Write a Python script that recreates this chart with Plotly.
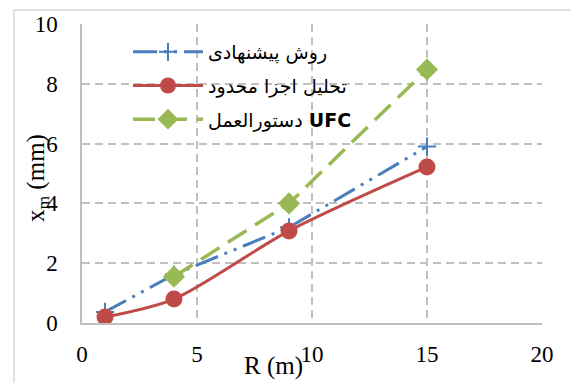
import plotly.graph_objects as go

# Radius R (m) and maximum displacement x_m (mm) for each method
r_proposed = [1, 4, 9, 15]
xm_proposed = [0.37, 1.62, 3.2, 5.9]

r_fem = [1, 4, 9, 15]
xm_fem = [0.2, 0.8, 3.08, 5.22]

r_ufc = [4, 9, 15]
xm_ufc = [1.55, 4.0, 8.48]

names = ["روش پیشنهادی", "تحلیل اجزا محدود", "دستورالعمل <b>UFC</b>"]

x_ticks = [0, 5, 10, 15, 20]
y_ticks = [0, 2, 4, 6, 8, 10]

serif = "Liberation Serif"
grid_color = "#c0c0c0"

fig = go.Figure()

fig.add_trace(go.Scatter(
    x=r_proposed, y=xm_proposed, name=names[0], mode="lines+markers",
    line=dict(color="#4a7ebb", width=3, dash="24px,7px,3px,7px,3px,7px"),
    marker=dict(symbol="cross-thin", size=13, line=dict(color="#4a7ebb", width=2)),
    legendgroup="a",
))
fig.add_trace(go.Scatter(
    x=r_fem, y=xm_fem, name=names[1], mode="lines+markers",
    line=dict(color="#be4b48", width=3, shape="spline", smoothing=0.8),
    marker=dict(symbol="circle", size=17, color="#be4b48"),
    legendgroup="b",
))
fig.add_trace(go.Scatter(
    x=r_ufc, y=xm_ufc, name=names[2], mode="lines+markers",
    line=dict(color="#98b954", width=3.5, dash="22px,10px"),
    marker=dict(symbol="diamond", size=17, color="#98b954"),
    legendgroup="c",
))

tick_font = dict(family=serif, size=23, color="black")

fig.update_xaxes(
    range=[0, 20], tickvals=x_ticks, ticklabelstandoff=10,
    showgrid=True, gridcolor=grid_color, gridwidth=1.5, griddash="8px,5px",
    showline=True, linecolor="#bfbfbf", linewidth=1.5,
    zeroline=False, ticks="", tickfont=tick_font,
)
fig.update_yaxes(
    range=[0, 10], tickvals=y_ticks, ticklabelstandoff=18,
    showgrid=True, gridcolor=grid_color, gridwidth=1.5, griddash="8px,5px",
    showline=True, linecolor="#bfbfbf", linewidth=1.5,
    zeroline=False, ticks="", tickfont=tick_font,
)

# Outer chart frame
fig.add_shape(type="rect", xref="paper", yref="paper",
              x0=-0.148, x1=1.08, y0=-0.25, y1=1.047,
              line=dict(color="#d9d9d9", width=1.5), layer="above")

# Axis titles
fig.add_annotation(text="x<sub>m</sub> (mm)", xref="paper", yref="paper",
                   x=(37 - 82) / 460, y=(323 - 178) / 299, textangle=-90,
                   showarrow=False, xanchor="center", yanchor="middle",
                   font=dict(family=serif, size=25, color="black"))
fig.add_annotation(text="R (m)", xref="paper", yref="paper",
                   x=(273 - 82) / 460, y=(323 - 366) / 299,
                   showarrow=False, xanchor="center", yanchor="middle",
                   font=dict(family=serif, size=25, color="black"))

fig.update_layout(
    width=571, height=383,
    margin=dict(l=82, r=29, t=24, b=60),
    plot_bgcolor="white", paper_bgcolor="white",
    font=dict(family=serif),
    showlegend=True,
    legend=dict(x=0.1, y=0.97, xanchor="left", yanchor="top",
                bgcolor="rgba(0,0,0,0)", itemwidth=70, tracegroupgap=6,
                font=dict(family="DejaVu Sans", size=19, color="black")),
)

fig.write_html("out.html")
